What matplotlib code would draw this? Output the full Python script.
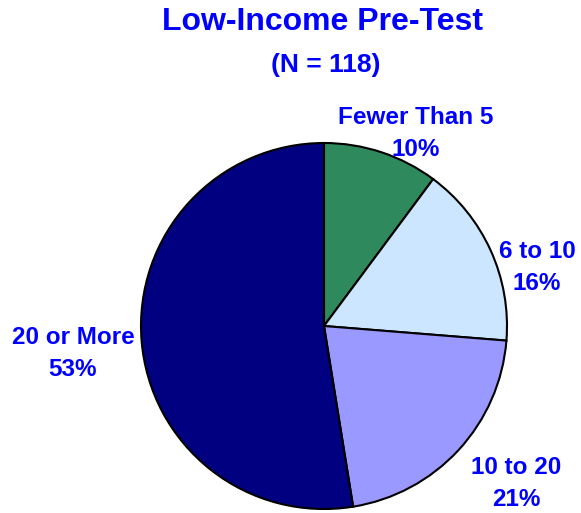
import matplotlib.pyplot as plt

plt.rcParams['font.family'] = ['Liberation Sans', 'DejaVu Sans']

# data (N = 118)
categories = ['Fewer Than 5', '6 to 10', '10 to 20', '20 or More']
counts = [12, 19, 25, 62]
percents = [10, 16, 21, 53]
colors = ['#2E8A5C', '#CCE6FF', '#9999FF', '#000080']

title = 'Low-Income Pre-Test'
subtitle = '(N = 118)'

# label centers in image pixels (x, y from top)
label_pos = [(416, 134), (537, 267), (516, 483), (73, 354)]

W, H = 581, 513
fig = plt.figure(figsize=(W / 100, H / 100), dpi=100)
ax = fig.add_axes([0, 0, 1, 1])

text_color = '#0000FF'

ax.pie(counts, colors=colors, startangle=90, counterclock=False,
       center=(324, H - 326), radius=183,
       wedgeprops=dict(edgecolor='black', linewidth=1.5))

ax.set_xlim(0, W)
ax.set_ylim(0, H)
ax.set_aspect('auto')
ax.axis('off')

for cat, pct, (x, y) in zip(categories, percents, label_pos):
    ax.text(x, H - y, f'{cat}\n{pct}%', ha='center', va='center',
            fontsize=17.5, fontweight='bold', color=text_color,
            linespacing=1.5)

ax.text(322, H - 22, title, ha='center', va='center', fontsize=23,
        fontweight='bold', color=text_color)
ax.text(326, H - 65, subtitle, ha='center', va='center', fontsize=19,
        fontweight='bold', color=text_color)

plt.savefig('out.png', dpi=100, facecolor='white')
